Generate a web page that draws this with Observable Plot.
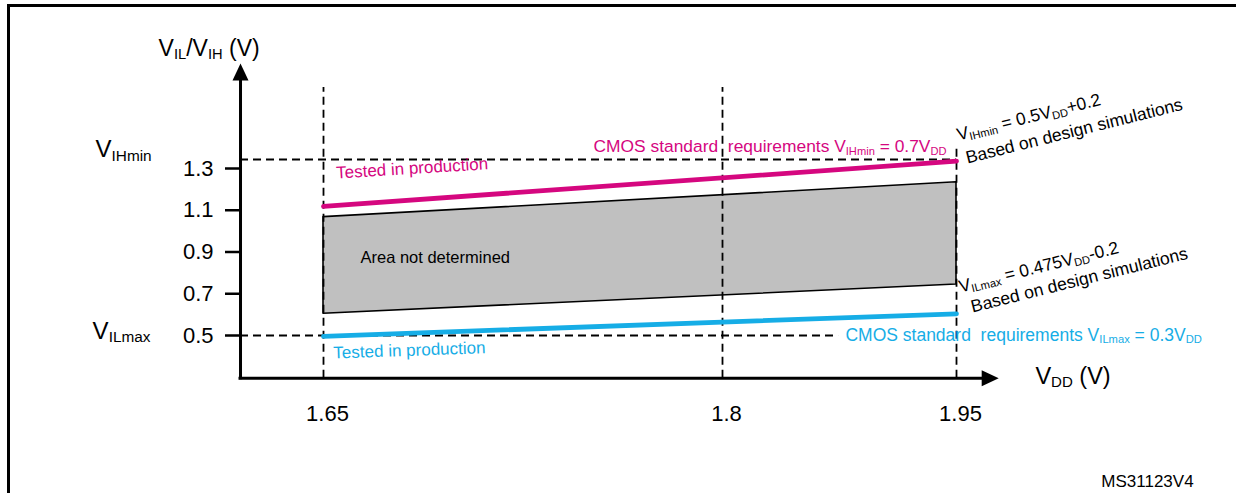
<!DOCTYPE html>
<html><head><meta charset="utf-8">
<script src="https://cdn.jsdelivr.net/npm/d3@7"></script>
<script src="https://cdn.jsdelivr.net/npm/@observablehq/plot@0.6"></script>
<style>
html,body{margin:0;padding:0;background:#fff;overflow:hidden;}
#wrap{position:relative;width:1236px;height:493px;overflow:hidden;}
#border{position:absolute;left:7px;top:4px;width:1300px;height:600px;border-top:3px solid #000;border-left:3px solid #000;}
#chart{position:absolute;left:0;top:0;}
svg text{white-space:pre;}
</style></head>
<body><div id="wrap"><div id="border"></div><div id="chart"></div></div>
<script>
// ---- data ----
const vddTicks = [1.65, 1.8, 1.95];           // VDD (V) tick labels
const vTicks = [0.5, 0.7, 0.9, 1.1, 1.3];      // VIL/VIH (V) tick labels
const vddEnds = [1.65, 1.95];                  // span of the characteristic
const vihTested = [1.119, 1.335];              // magenta "tested in production"
const areaTop = [1.067, 1.234];                // VIHmin = 0.5VDD+0.2 (design sim)
const areaBottom = [0.604, 0.744];             // VILmax = 0.475VDD-0.2 (design sim)
const vilTested = [0.496, 0.604];              // cyan "tested in production"
const vihMinLevel = 1.343;                     // VIHmin dashed level
const vilMaxLevel = 0.5;                       // VILmax dashed level

// axis frame of the diagram (data units)
const xOrigin = 1.6188, yOrigin = 0.295;
const yAxisTop = 1.75, xAxisEnd = 1.970;
const vertTop = 1.688, vertTopRight = 1.396, vilDashEnd = 1.8744;

const rows = vddEnds.map((v, i) => ({vdd: v, vih: vihTested[i], top: areaTop[i], bottom: areaBottom[i], vil: vilTested[i]}));

const F = "'Liberation Sans', Arial, Helvetica, sans-serif";
const magenta = "#d5077f";
const cyan = "#16ade6";
const dash = {stroke: "#000", strokeWidth: 1.8, strokeDasharray: "8,5"};

const triUp = {draw(c) { c.moveTo(0, -11); c.lineTo(8, 6); c.lineTo(-8, 6); c.closePath(); }};
const triRight = {draw(c) { c.moveTo(11, 0); c.lineTo(-6, 8); c.lineTo(-6, -8); c.closePath(); }};

const T = (text, x, y, o = {}) => Plot.text([text], {x: () => x, y: () => y, text: d => d, textAnchor: "start", lineAnchor: "bottom", fill: "#000", fontSize: 17, ...o});

const chart = Plot.plot({
  width: 1236, height: 493,
  marginLeft: 240, marginBottom: 115, marginTop: 0, marginRight: 0,
  style: {fontFamily: F, color: "#000", background: "transparent", overflow: "visible"},
  x: {type: "linear", domain: vddTicks, range: [323, 722, 956]},
  y: {type: "linear", domain: [0.5, 1.3], range: [335, 168]},
  marks: [
    Plot.areaY(rows, {x: "vdd", y1: "bottom", y2: "top", fill: "#c0c0c0", stroke: "#000", strokeWidth: 1.6}),
    Plot.ruleY([vihMinLevel], {x1: xOrigin, x2: 1.95, ...dash}),
    Plot.ruleY([vilMaxLevel], {x1: xOrigin, x2: vilDashEnd, ...dash}),
    Plot.ruleX([1.65, 1.8], {y1: yOrigin, y2: vertTop, ...dash}),
    Plot.ruleX([1.95], {y1: yOrigin, y2: vertTopRight, ...dash}),
    Plot.line(rows, {x: "vdd", y: "vih", stroke: magenta, strokeWidth: 4.8}),
    Plot.line(rows, {x: "vdd", y: "vil", stroke: cyan, strokeWidth: 4.8}),
    // axes
    Plot.ruleX([xOrigin], {y1: yOrigin, y2: yAxisTop, stroke: "#000", strokeWidth: 3, strokeLinecap: "square"}),
    Plot.ruleY([yOrigin], {x1: xOrigin, x2: xAxisEnd, stroke: "#000", strokeWidth: 3, strokeLinecap: "square"}),
    Plot.dot([0], {x: () => xOrigin, y: () => yAxisTop, symbol: triUp, r: 6, fill: "#000", stroke: null}),
    Plot.dot([0], {x: () => xAxisEnd, y: () => yOrigin, symbol: triRight, r: 6, fill: "#000", stroke: null}),
    Plot.axisY(vTicks, {anchor: "left", tickSize: 15, tickPadding: 12, fontSize: 22, label: null, strokeWidth: 2.5, tickFormat: d => `${d}`}),
    Plot.axisX(vddTicks, {anchor: "bottom", tickSize: 0, tickPadding: 27, fontSize: 22, label: null, dx: 4, tickFormat: d => `${d}`}),
    // labels
    T("V_{IL}/V_{IH} (V)", 1.588, 1.841, {fontSize: 23}),
    T("V_{IHmin}", 1.5643, 1.3527, {fontSize: 24}),
    T("V_{ILmax}", 1.5632, 0.4856, {fontSize: 24}),
    T("V_{DD} (V)", 2.0006, 0.270, {fontSize: 23.5}),
    T("MS31123V4", 2.102, -0.2234, {textAnchor: "end", fontSize: 17}),
    T("Area not determined", 1.6639, 0.845, {fontSize: 16.5}),
    T("Tested in production", 1.6549, 1.252, {fill: magenta, rotate: -3.5}),
    T("CMOS standard  requirements V_{IHmin} = 0.7V_{DD}", 1.7515, 1.3767, {fill: magenta, fontSize: 17.4}),
    T("Tested in production", 1.6538, 0.3898, {fill: cyan, rotate: -2}),
    T("CMOS standard  requirements V_{ILmax} = 0.3V_{DD}", 1.8788, 0.476, {fill: cyan, fontSize: 17.5}),
    T("V_{IHmin} = 0.5V_{DD}+0.2", 1.9513, 1.434, {rotate: -14, fontSize: 17.5}),
    T("Based on design simulations", 1.957, 1.324, {rotate: -14, fontSize: 17.5}),
    T("V_{ILmax} = 0.475V_{DD}-0.2", 1.9526, 0.706, {rotate: -14, fontSize: 17.5}),
    T("Based on design simulations", 1.9603, 0.610, {rotate: -14, fontSize: 17.5})
  ]
});
document.getElementById("chart").appendChild(chart);

// turn "_{...}" markup into subscript tspans
const NS = "http://www.w3.org/2000/svg";
chart.querySelectorAll("text").forEach(t => {
  const s = t.textContent;
  if (!s.includes("_{")) return;
  const fs = parseFloat(getComputedStyle(t).fontSize) || 17;
  const shift = fs * 0.15;
  while (t.firstChild) t.removeChild(t.firstChild);
  const re = /_\{([^}]*)\}/g;
  let last = 0, m, down = false;
  const add = (str, sub) => {
    const ts = document.createElementNS(NS, "tspan");
    ts.textContent = str;
    if (sub) { ts.setAttribute("font-size", (fs * 0.64) + "px"); ts.setAttribute("dy", shift); down = true; }
    else if (down) { ts.setAttribute("dy", -shift); down = false; }
    t.appendChild(ts);
  };
  while ((m = re.exec(s))) {
    if (m.index > last) add(s.slice(last, m.index), false);
    add(m[1], true);
    last = re.lastIndex;
  }
  if (last < s.length) add(s.slice(last), false);
});
</script>
</body></html>
